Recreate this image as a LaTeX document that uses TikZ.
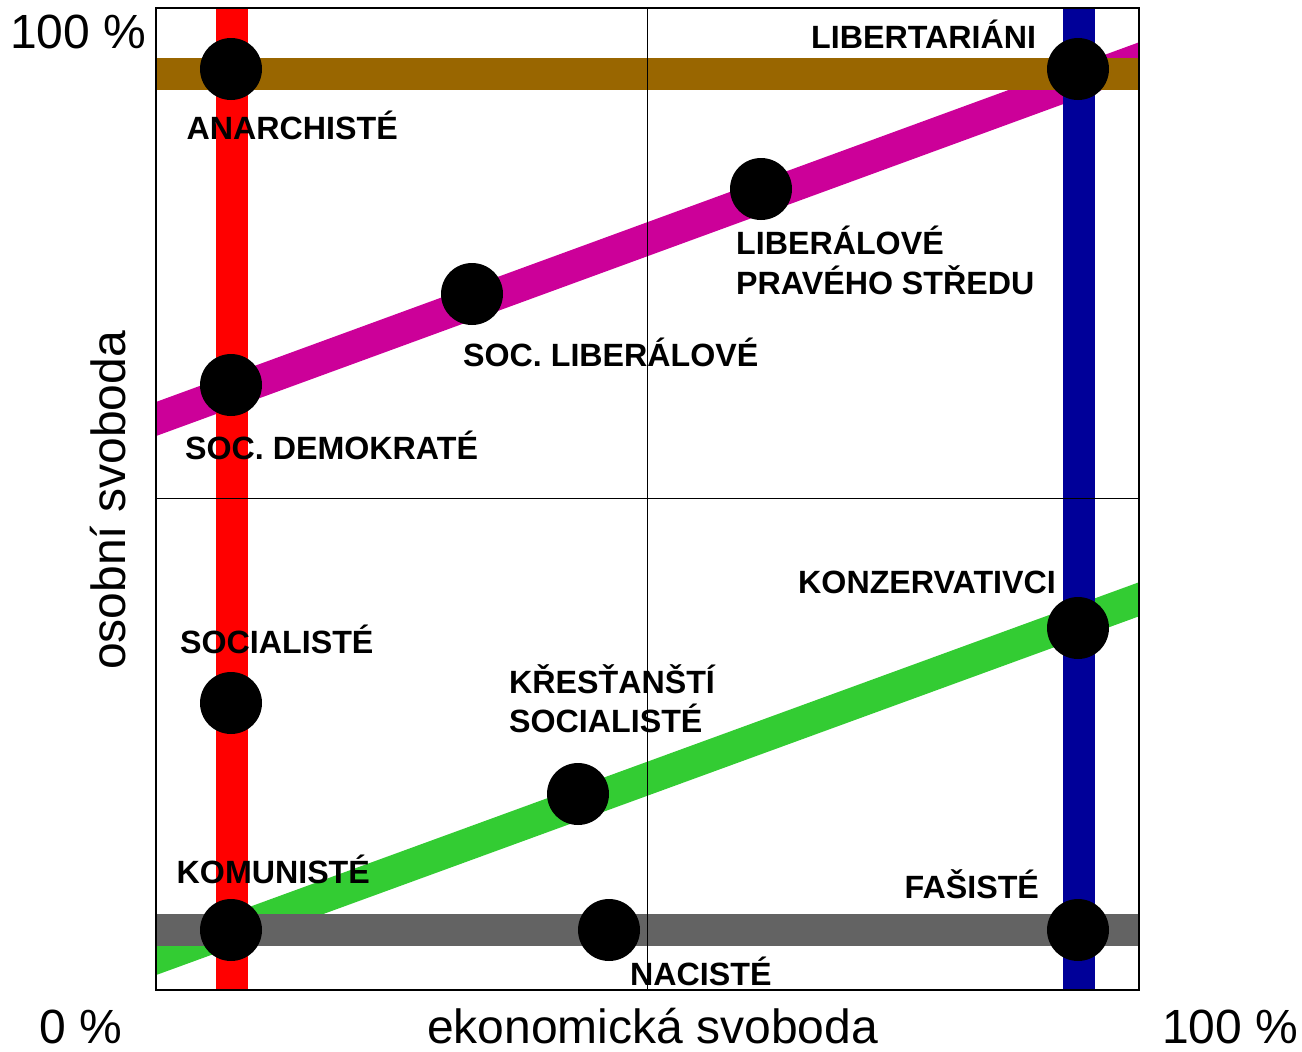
\documentclass[tikz,border=0pt]{standalone}
\usepackage{fontspec}
\setmainfont{Liberation Sans}
\definecolor{cbrown}{HTML}{996600}
\definecolor{cmag}{HTML}{CC0099}
\definecolor{cgreen}{HTML}{33CC33}
\definecolor{cgray}{HTML}{636363}
\definecolor{cred}{HTML}{FF0000}
\definecolor{cblue}{HTML}{000099}
\begin{document}
\begin{tikzpicture}[x=1pt,y=-1pt,
  band/.style={line width=32pt},
  dot/.style={circle,fill=black,inner sep=0pt,minimum size=62pt},
  lab/.style={anchor=base west,inner sep=0pt,font=\fontsize{32.2}{36}\selectfont\bfseries},
  axl/.style={anchor=base west,inner sep=0pt,font=\fontsize{48}{52}\selectfont}]
\useasboundingbox (0,0) rectangle (1302,1052);
% band end coordinates
\coordinate (mL) at (100,439.5);
\coordinate (mR) at (1200,37);
\coordinate (gL) at (100,978.5);
\coordinate (gR) at (1200,577);
\begin{scope}
\clip (156,8) rectangle (1139,990);
\draw[band,cgreen] (gL) -- (gR);
\draw[band,cmag] (mL) -- (mR);
\draw[band,cgray] (100,930) -- (1200,930);
\draw[band,cbrown] (100,74) -- (1200,74);
\draw[band,cred] (232,0) -- (232,1000);
\draw[band,cblue] (1078.5,0) -- (1078.5,1000);
\end{scope}
% quadrant lines
\draw[line width=1.5pt] (647.5,8) -- (647.5,990);
\draw[line width=1.5pt] (156,498.5) -- (1139,498.5);
\draw[line width=2pt] (156,8) rectangle (1139,990);
% dots
\node[dot] (anarch) at (231,69) {};
\node[dot] (libert) at (1078,69) {};
\node[dot] (libps) at (761,189) {};
\node[dot] (socl) at (472,294) {};
\node[dot] (socd) at (231,385) {};
\node[dot] (socia) at (231,703) {};
\node[dot] (krest) at (578,794) {};
\node[dot] (konz) at (1078,628) {};
\node[dot] (komun) at (231,930) {};
\node[dot] (nacis) at (609,930) {};
\node[dot] (fasis) at (1078,930) {};
% labels
\node[lab] (tLib) at (811,48) {LIBERTARIÁNI};
\node[lab] (tAna) at (186.5,139) {ANARCHISTÉ};
\node[lab] (tLps1) at (736,254) {LIBERÁLOVÉ};
\node[lab] (tLps2) at (736,294) {PRAVÉHO STŘEDU};
\node[lab] (tSocl) at (463,366) {SOC. LIBERÁLOVÉ};
\node[lab] (tSocd) at (185,459) {SOC. DEMOKRATÉ};
\node[lab] (tKonz) at (798,593) {KONZERVATIVCI};
\node[lab] (tSocia) at (180,653) {SOCIALISTÉ};
\node[lab] (tKr1) at (509,693) {KŘESŤANŠTÍ};
\node[lab] (tKr2) at (509,732) {SOCIALISTÉ};
\node[lab] (tKom) at (176.5,883) {KOMUNISTÉ};
\node[lab] (tFas) at (904.5,898) {FAŠISTÉ};
\node[lab] (tNac) at (630,985) {NACISTÉ};
% axis labels
\node[axl] (a100t) at (10,48) {100 \%};
\node[axl] (a0) at (39,1043) {0 \%};
\node[axl] (a100r) at (1162,1043) {100 \%};
\node[axl,anchor=base] (aeko) at (652.5,1043) {ekonomická svoboda};
\node[axl,anchor=base,rotate=90] (aos) at (125,500.5) {osobní svoboda};
\end{tikzpicture}
\end{document}
